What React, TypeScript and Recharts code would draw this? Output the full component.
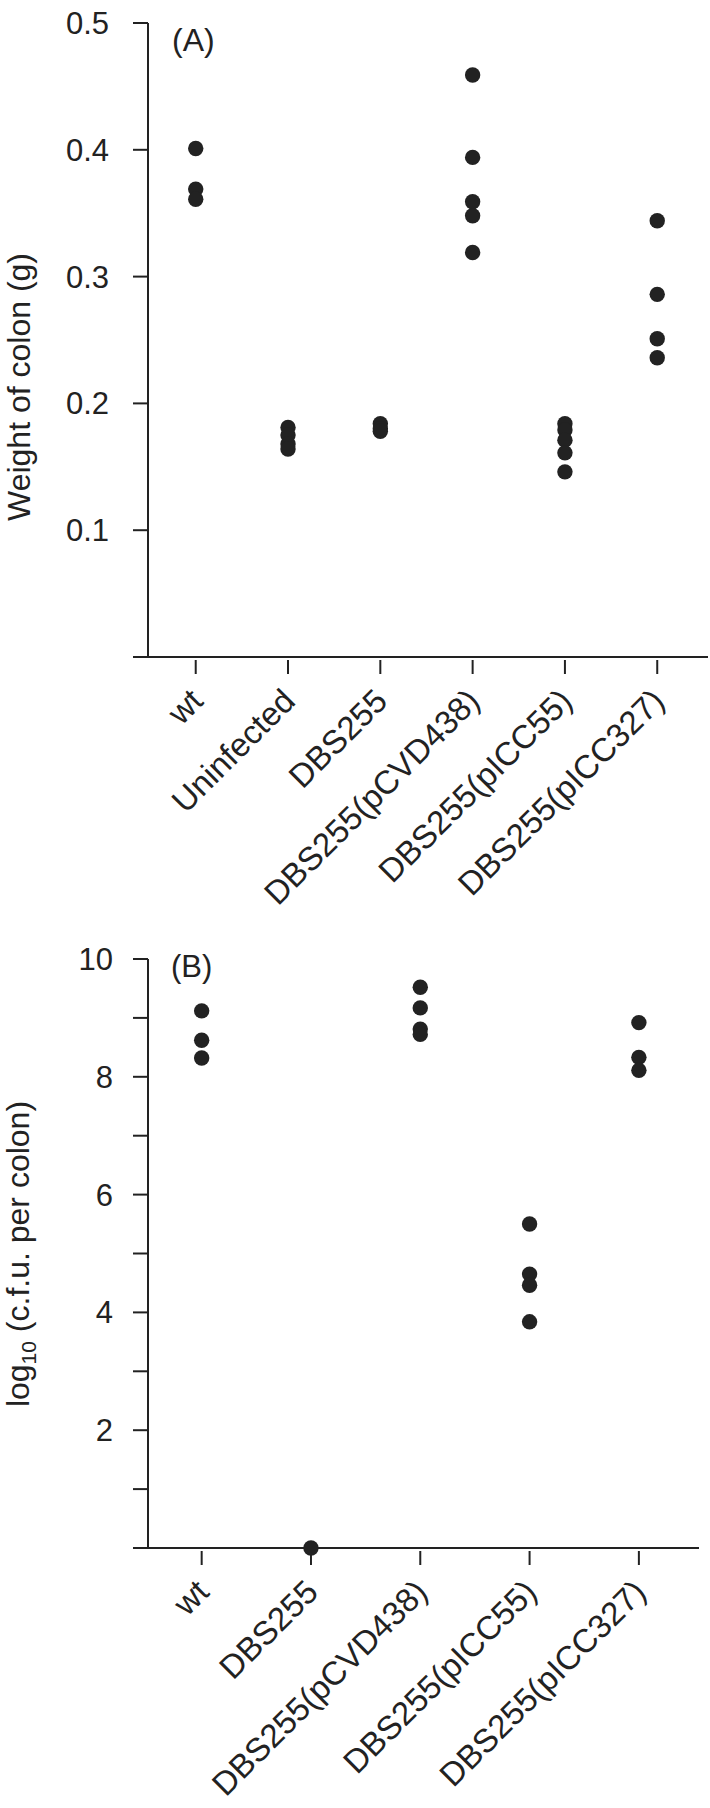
import React from 'react'
import { ScatterChart, Scatter, XAxis, YAxis } from 'recharts'

// Panel A: colon weight (g)
const weightCategories = ['wt', 'Uninfected', 'DBS255', 'DBS255(pCVD438)', 'DBS255(pICC55)', 'DBS255(pICC327)']
const weightWt = [0.401, 0.369, 0.361]
const weightUninfected = [0.181, 0.175, 0.168, 0.164]
const weightDbs255 = [0.184, 0.18, 0.178]
const weightPcvd438 = [0.459, 0.394, 0.359, 0.348, 0.319]
const weightPicc55 = [0.184, 0.179, 0.171, 0.161, 0.146]
const weightPicc327 = [0.344, 0.286, 0.251, 0.236]
const weightTicks = [0, 0.1, 0.2, 0.3, 0.4, 0.5]

// Panel B: log10 c.f.u. per colon
const cfuCategories = ['wt', 'DBS255', 'DBS255(pCVD438)', 'DBS255(pICC55)', 'DBS255(pICC327)']
const cfuWt = [9.12, 8.62, 8.32]
const cfuDbs255 = [0]
const cfuPcvd438 = [9.52, 9.17, 8.81, 8.72]
const cfuPicc55 = [5.5, 4.65, 4.46, 3.84]
const cfuPicc327 = [8.92, 8.33, 8.11]
const cfuTicks = [0, 1, 2, 3, 4, 5, 6, 7, 8, 9, 10]

const INK = '#222'
const FONT = '"Liberation Sans", Arial, Helvetica, sans-serif'

const toPoints = (groups: number[][]) =>
  groups.flatMap((vals, i) => vals.map(v => ({ x: i, y: v })))

const weightData = toPoints([weightWt, weightUninfected, weightDbs255, weightPcvd438, weightPicc55, weightPicc327])
const cfuData = toPoints([cfuWt, cfuDbs255, cfuPcvd438, cfuPicc55, cfuPicc327])

function CategoryTick(props: any) {
  const { x, y, payload, labels } = props
  const ax = x + 9
  const ay = y + 46
  return (
    <g>
      <line x1={x} x2={x} y1={y + 3} y2={y + 17} stroke={INK} strokeWidth={2} />
      <text
        x={ax}
        y={ay}
        textAnchor="end"
        transform={`rotate(-45 ${ax} ${ay})`}
        fill={INK}
        fontSize={33}
        fontFamily={FONT}
      >
        {labels[payload.value]}
      </text>
    </g>
  )
}

const Dot = (props: any) => <circle cx={props.cx} cy={props.cy} r={7.7} fill={INK} />

export default function App() {
  return (
    <div style={{ position: 'absolute', left: 0, top: 0, width: 710, height: 1808, background: '#fff', fontFamily: FONT }}>
      <div style={{ position: 'absolute', left: 0, top: 0 }}>
        <ScatterChart width={710} height={930} margin={{ top: 23, right: 2, bottom: 0, left: 0 }}>
          <XAxis
            type="number"
            dataKey="x"
            domain={[-0.517, 5.55]}
            ticks={[0, 1, 2, 3, 4, 5]}
            allowDataOverflow
            height={273}
            tickSize={0}
            tickMargin={0}
            tickLine={false}
            axisLine={{ stroke: INK, strokeWidth: 2 }}
            tick={(p: any) => <CategoryTick {...p} labels={weightCategories} />}
          />
          <YAxis
            type="number"
            dataKey="y"
            domain={[0, 0.5]}
            ticks={weightTicks}
            width={148}
            tickSize={15}
            tickMargin={24}
            axisLine={{ stroke: INK, strokeWidth: 2 }}
            tickLine={{ stroke: INK, strokeWidth: 2 }}
            tick={{ fill: INK, fontSize: 31, fontFamily: FONT }}
            tickFormatter={(v: number) => (v === 0 ? '' : v.toFixed(1))}
          />
          <Scatter data={weightData} shape={Dot} isAnimationActive={false} />
        </ScatterChart>
      </div>
      <div style={{ position: 'absolute', left: 0, top: 930 }}>
        <ScatterChart width={710} height={878} margin={{ top: 29, right: 11, bottom: 0, left: 0 }}>
          <XAxis
            type="number"
            dataKey="x"
            domain={[-0.491, 4.55]}
            ticks={[0, 1, 2, 3, 4]}
            allowDataOverflow
            height={260}
            tickSize={0}
            tickMargin={0}
            tickLine={false}
            axisLine={{ stroke: INK, strokeWidth: 2 }}
            tick={(p: any) => <CategoryTick {...p} labels={cfuCategories} />}
          />
          <YAxis
            type="number"
            dataKey="y"
            domain={[0, 10]}
            ticks={cfuTicks}
            width={148}
            tickSize={15}
            tickMargin={20}
            axisLine={{ stroke: INK, strokeWidth: 2 }}
            tickLine={{ stroke: INK, strokeWidth: 2 }}
            tick={{ fill: INK, fontSize: 31, fontFamily: FONT }}
            tickFormatter={(v: number) => (v !== 0 && v % 2 === 0 ? String(v) : '')}
          />
          <Scatter data={cfuData} shape={Dot} isAnimationActive={false} />
        </ScatterChart>
      </div>
      <svg
        width={710}
        height={1808}
        style={{ position: 'absolute', left: 0, top: 0, pointerEvents: 'none' }}
      >
        <text x={172} y={51} fontSize={32} fill={INK} fontFamily={FONT}>(A)</text>
        <text x={171} y={977} fontSize={31} fill={INK} fontFamily={FONT}>(B)</text>
        <text
          transform="translate(30 387) rotate(-90)"
          textAnchor="middle"
          fontSize={32}
          fill={INK}
          fontFamily={FONT}
        >
          Weight of colon (g)
        </text>
        <text
          transform="translate(29 1254) rotate(-90)"
          textAnchor="middle"
          fontSize={32}
          fill={INK}
          fontFamily={FONT}
        >
          log<tspan fontSize={21} dy={7}>10</tspan>
          <tspan dy={-7}> (c.f.u. per colon)</tspan>
        </text>
      </svg>
    </div>
  )
}
